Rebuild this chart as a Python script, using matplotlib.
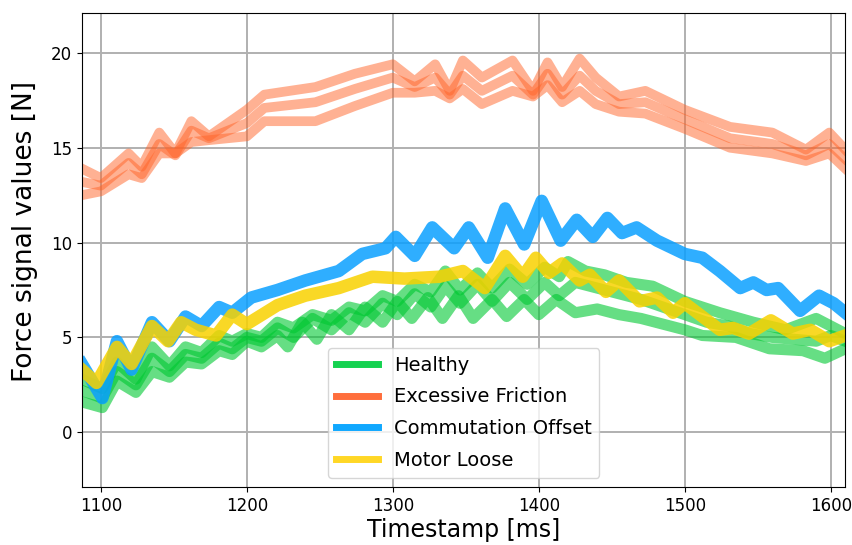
import matplotlib
matplotlib.use("Agg")
import matplotlib.pyplot as plt
from matplotlib.lines import Line2D

# Excessive Friction (3 runs)
fric_t = [1087, 1100, 1119, 1128, 1140, 1151, 1162, 1174, 1200, 1212, 1247, 1274, 1300, 1315, 1329, 1339,
          1348, 1361, 1382, 1396, 1406, 1416, 1428, 1439, 1455, 1473, 1500, 1531, 1560, 1583, 1599, 1610]
fric_a = [13.9, 13.4, 14.7, 14.0, 15.8, 14.7, 16.4, 15.6, 17.0, 17.8, 18.2, 18.9, 19.4, 18.5, 19.4, 18.0,
          19.6, 18.7, 19.6, 18.0, 19.5, 18.2, 19.7, 18.7, 17.7, 18.0, 17.0, 16.1, 15.8, 14.9, 15.8, 14.9]
fric_b = [13.2, 13.0, 14.2, 13.6, 15.2, 14.6, 15.9, 15.5, 16.3, 17.1, 17.4, 18.1, 18.7, 18.2, 18.7, 17.8,
          18.8, 18.0, 18.8, 17.8, 18.9, 17.8, 18.8, 18.0, 17.3, 17.4, 16.5, 15.5, 15.2, 14.6, 15.2, 14.4]
fric_c = [12.5, 12.7, 13.6, 13.4, 14.7, 14.7, 15.3, 15.4, 15.6, 16.4, 16.4, 17.2, 17.9, 17.9, 18.0, 17.6,
          18.1, 17.3, 18.0, 17.7, 18.3, 17.4, 18.0, 17.3, 16.9, 16.8, 16.0, 15.0, 14.7, 14.3, 14.7, 13.9]

# Commutation Offset
comm_t = [1087, 1101, 1111, 1121, 1135, 1147, 1158, 1169, 1181, 1190, 1203, 1221, 1240, 1263, 1279, 1295,
          1302, 1315, 1327, 1342, 1352, 1365, 1377, 1390, 1402, 1415, 1426, 1437, 1447, 1457, 1467, 1481,
          1500, 1512, 1524, 1538, 1547, 1556, 1564, 1579, 1592, 1602, 1610]
comm_v = [3.6, 1.8, 4.8, 3.3, 5.8, 4.8, 6.1, 5.6, 6.6, 6.3, 7.1, 7.5, 8.0, 8.5, 9.4, 9.7,
          10.3, 9.3, 10.8, 9.7, 10.8, 9.2, 11.8, 9.9, 12.2, 10.1, 11.2, 10.3, 11.3, 10.5, 10.8, 10.1,
          9.4, 9.2, 8.5, 7.6, 7.9, 7.5, 7.6, 6.4, 7.2, 6.8, 6.3]

# Motor Loose
loose_t = [1087, 1097, 1111, 1121, 1135, 1146, 1155, 1165, 1179, 1190, 1200, 1221, 1240, 1263, 1286, 1308,
           1332, 1348, 1363, 1377, 1389, 1398, 1407, 1416, 1428, 1435, 1446, 1455, 1469, 1481, 1492, 1500,
           1512, 1524, 1533, 1544, 1559, 1574, 1586, 1599, 1610]
loose_v = [3.3, 2.6, 4.5, 3.6, 5.6, 4.8, 5.8, 5.4, 5.1, 6.2, 5.7, 6.7, 7.2, 7.6, 8.2, 8.1,
           8.2, 8.5, 7.6, 9.3, 8.2, 9.2, 8.4, 8.9, 8.0, 8.3, 7.4, 8.0, 6.9, 7.1, 6.3, 6.8,
           6.1, 5.4, 5.5, 5.2, 5.9, 5.2, 5.4, 4.8, 5.1]

# Healthy (3 runs)
heal_t1 = [1087, 1101, 1111, 1124, 1135, 1147, 1158, 1169, 1181, 1190, 1200, 1210, 1221, 1232, 1245, 1258,
           1270, 1281, 1293, 1303, 1315, 1326, 1336, 1346, 1358, 1368, 1380, 1392, 1404, 1414, 1420, 1432,
           1445, 1460, 1478, 1500, 1524, 1547, 1569, 1590, 1610]
heal_v1 = [2.8, 2.3, 3.7, 2.8, 4.5, 3.5, 4.5, 4.2, 5.1, 4.8, 5.2, 5.0, 5.8, 5.5, 6.2, 5.9,
           6.6, 6.4, 7.2, 6.9, 7.8, 7.4, 8.5, 7.5, 8.4, 7.6, 8.6, 7.8, 8.7, 8.2, 9.0, 8.5,
           8.3, 7.9, 7.7, 6.9, 6.3, 5.8, 5.4, 6.0, 5.2]
heal_t2 = [1087, 1101, 1111, 1124, 1135, 1147, 1158, 1169, 1181, 1190, 1200, 1210, 1221, 1232, 1245, 1258,
           1270, 1281, 1293, 1303, 1315, 1326, 1336, 1346, 1358, 1368, 1380, 1392, 1404, 1414, 1425, 1440,
           1455, 1470, 1485, 1500, 1515, 1530, 1545, 1560, 1575, 1590, 1600, 1610]
heal_v2 = [2.2, 1.8, 3.2, 2.5, 3.9, 3.2, 4.1, 3.9, 4.7, 4.4, 5.0, 4.8, 5.5, 5.0, 6.0, 5.4,
           6.3, 5.8, 6.8, 6.2, 7.3, 6.6, 7.7, 6.8, 7.8, 6.9, 7.9, 7.0, 7.9, 7.2, 7.9, 7.6,
           7.3, 7.0, 6.6, 6.2, 5.8, 5.6, 5.2, 5.0, 4.9, 4.8, 5.1, 4.8]
heal_t3 = [1087, 1101, 1111, 1124, 1135, 1147, 1158, 1169, 1181, 1190, 1200, 1210, 1221, 1228, 1238, 1248,
           1258, 1270, 1281, 1293, 1303, 1313, 1324, 1334, 1345, 1355, 1368, 1378, 1390, 1400, 1412, 1425,
           1440, 1455, 1470, 1485, 1500, 1512, 1535, 1558, 1581, 1596, 1610]
heal_v3 = [1.6, 1.3, 2.7, 2.1, 3.2, 2.9, 3.7, 3.6, 4.3, 4.1, 4.8, 4.5, 5.1, 4.5, 5.8, 4.9,
           6.2, 5.4, 6.6, 5.8, 6.9, 6.0, 7.1, 6.0, 7.2, 6.0, 7.0, 6.1, 7.0, 6.2, 7.0, 6.3,
           6.5, 6.2, 6.0, 5.7, 5.4, 5.1, 5.0, 4.4, 4.3, 3.9, 4.4]

labels = ["Healthy", "Excessive Friction", "Commutation Offset", "Motor Loose"]
colors = ["#14d250", "#ff6e3c", "#10a8ff", "#ffd726"]

fig = plt.figure(figsize=(8.53, 5.45), dpi=100)
ax = fig.add_axes([0.096, 0.106, 0.895, 0.870])

# healthy runs
for t, v in [(heal_t1, heal_v1), (heal_t2, heal_v2), (heal_t3, heal_v3)]:
    ax.plot(t, v, color="#00c832", lw=8, alpha=0.6, solid_joinstyle="round")
# friction runs
for v in [fric_a, fric_b, fric_c]:
    ax.plot(fric_t, v, color="#ff6428", lw=7, alpha=0.5, solid_joinstyle="round")
ax.plot(comm_t, comm_v, color="#0aa0ff", lw=9, alpha=0.85, solid_joinstyle="round")
ax.plot(loose_t, loose_v, color="#f8d200", lw=9, alpha=0.85, solid_joinstyle="round")

ax.set_xlim(1087, 1610)
ax.set_ylim(-2.9, 22.1)
ax.set_xticks([1100, 1200, 1300, 1400, 1500, 1600])
ax.set_yticks([0, 5, 10, 15, 20])
ax.tick_params(labelsize=12)
ax.grid(True, color="#b0b0b0", lw=1.4)
ax.set_axisbelow(True)
ax.set_xlabel("Timestamp [ms]", fontsize=17, labelpad=2)
ax.set_ylabel("Force signal values [N]", fontsize=19)
ax.yaxis.set_label_coords(-0.058, 0.54)

handles = [Line2D([0], [0], color=c, lw=5) for c in colors]
ax.legend(handles, labels, loc="lower center", fontsize=14, framealpha=0.8,
          handlelength=2.2, labelspacing=0.65)

fig.savefig("out.png")
